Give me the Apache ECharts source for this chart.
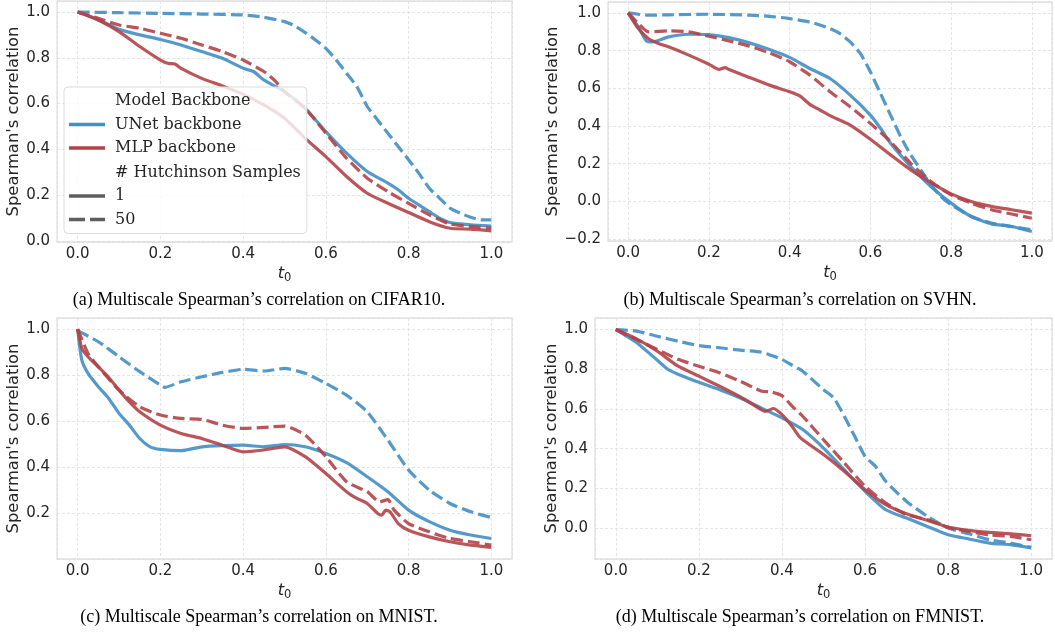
<!DOCTYPE html>
<html><head><meta charset="utf-8">
<script src="https://cdn.jsdelivr.net/npm/echarts@6/dist/echarts.min.js"></script>
<style>html,body{margin:0;padding:0;background:#fff}#c{width:1055px;height:636px}</style>
</head><body><div id="c"></div>
<script>
// ---- data: [t0, Spearman's correlation] ----
const cifarUnet1 = [[0,1.0],[0.025,0.985],[0.05,0.965],[0.075,0.945],[0.1,0.924],[0.15,0.9],[0.2,0.88],[0.25,0.856],[0.3,0.827],[0.35,0.798],[0.4,0.754],[0.425,0.74],[0.45,0.703],[0.5,0.652],[0.55,0.579],[0.6,0.477],[0.65,0.383],[0.7,0.303],[0.75,0.252],[0.775,0.223],[0.8,0.186],[0.85,0.128],[0.875,0.099],[0.9,0.08],[0.95,0.07],[1.0,0.065]];
const cifarUnet50 = [[0,1.0],[0.1,0.997],[0.2,0.994],[0.3,0.991],[0.4,0.987],[0.45,0.977],[0.5,0.958],[0.525,0.939],[0.55,0.91],[0.575,0.878],[0.6,0.841],[0.625,0.79],[0.65,0.732],[0.675,0.674],[0.7,0.587],[0.725,0.528],[0.75,0.47],[0.775,0.412],[0.8,0.354],[0.825,0.295],[0.85,0.23],[0.875,0.186],[0.9,0.143],[0.925,0.121],[0.95,0.103],[0.975,0.092],[1.0,0.092]];
const cifarMlp1 = [[0,1.0],[0.05,0.965],[0.1,0.914],[0.15,0.849],[0.2,0.79],[0.22,0.775],[0.235,0.773],[0.25,0.754],[0.3,0.71],[0.35,0.677],[0.4,0.64],[0.45,0.594],[0.5,0.536],[0.55,0.448],[0.6,0.368],[0.65,0.281],[0.7,0.208],[0.75,0.164],[0.8,0.124],[0.85,0.084],[0.9,0.055],[0.95,0.051],[1.0,0.044]];
const cifarMlp50 = [[0,1.0],[0.05,0.972],[0.1,0.943],[0.15,0.929],[0.2,0.907],[0.25,0.885],[0.3,0.856],[0.35,0.827],[0.4,0.79],[0.45,0.74],[0.475,0.703],[0.5,0.652],[0.55,0.579],[0.6,0.47],[0.65,0.361],[0.7,0.274],[0.75,0.215],[0.8,0.164],[0.85,0.114],[0.9,0.074],[0.95,0.063],[1.0,0.055]];

const svhnUnet1 = [[0,1.0],[0.025,0.926],[0.045,0.852],[0.06,0.846],[0.1,0.873],[0.15,0.887],[0.2,0.885],[0.25,0.869],[0.3,0.841],[0.35,0.806],[0.4,0.764],[0.45,0.705],[0.5,0.652],[0.55,0.564],[0.6,0.458],[0.625,0.388],[0.65,0.308],[0.7,0.185],[0.75,0.079],[0.8,-0.009],[0.85,-0.08],[0.9,-0.119],[0.95,-0.133],[1.0,-0.16]];
const svhnUnet50 = [[0,1.0],[0.05,0.988],[0.1,0.99],[0.2,0.993],[0.3,0.988],[0.35,0.982],[0.4,0.97],[0.45,0.952],[0.5,0.917],[0.525,0.89],[0.55,0.846],[0.575,0.785],[0.6,0.688],[0.625,0.573],[0.65,0.458],[0.675,0.344],[0.7,0.247],[0.725,0.167],[0.75,0.088],[0.775,0.026],[0.8,-0.018],[0.85,-0.08],[0.9,-0.115],[0.95,-0.133],[1.0,-0.15]];
const svhnMlp1 = [[0,1.0],[0.025,0.917],[0.05,0.864],[0.075,0.838],[0.1,0.82],[0.15,0.776],[0.2,0.728],[0.225,0.7],[0.24,0.71],[0.25,0.7],[0.3,0.658],[0.35,0.617],[0.4,0.582],[0.425,0.56],[0.45,0.515],[0.475,0.485],[0.5,0.455],[0.55,0.405],[0.6,0.33],[0.65,0.247],[0.7,0.167],[0.75,0.1],[0.8,0.04],[0.85,0.0],[0.9,-0.026],[0.95,-0.044],[1.0,-0.062]];
const svhnMlp50 = [[0,1.0],[0.025,0.944],[0.05,0.9],[0.1,0.905],[0.15,0.9],[0.2,0.876],[0.25,0.852],[0.3,0.824],[0.35,0.788],[0.4,0.741],[0.45,0.67],[0.5,0.582],[0.55,0.502],[0.6,0.414],[0.65,0.317],[0.7,0.202],[0.75,0.105],[0.8,0.035],[0.85,-0.009],[0.9,-0.044],[0.95,-0.067],[1.0,-0.089]];

const mnistUnet1 = [[0,1.0],[0.01,0.865],[0.025,0.808],[0.05,0.75],[0.075,0.699],[0.1,0.634],[0.125,0.583],[0.15,0.525],[0.175,0.489],[0.2,0.478],[0.25,0.472],[0.3,0.489],[0.35,0.494],[0.4,0.496],[0.45,0.489],[0.5,0.499],[0.55,0.489],[0.6,0.46],[0.65,0.42],[0.7,0.359],[0.75,0.294],[0.8,0.214],[0.85,0.164],[0.9,0.127],[0.95,0.106],[1.0,0.091]];
const mnistUnet50 = [[0,0.993],[0.05,0.945],[0.1,0.88],[0.15,0.815],[0.2,0.757],[0.21,0.747],[0.25,0.771],[0.3,0.793],[0.35,0.812],[0.4,0.825],[0.45,0.818],[0.5,0.829],[0.55,0.808],[0.6,0.764],[0.65,0.713],[0.7,0.641],[0.75,0.518],[0.8,0.388],[0.85,0.301],[0.9,0.243],[0.95,0.207],[1.0,0.182]];
const mnistMlp1 = [[0,1.0],[0.01,0.916],[0.025,0.88],[0.05,0.836],[0.075,0.79],[0.1,0.735],[0.125,0.684],[0.15,0.641],[0.2,0.583],[0.25,0.547],[0.3,0.525],[0.35,0.496],[0.4,0.467],[0.45,0.475],[0.5,0.489],[0.55,0.446],[0.6,0.373],[0.65,0.294],[0.675,0.265],[0.7,0.243],[0.725,0.2],[0.735,0.192],[0.745,0.214],[0.755,0.207],[0.775,0.156],[0.8,0.127],[0.85,0.098],[0.9,0.077],[0.95,0.062],[1.0,0.052]];
const mnistMlp50 = [[0,1.0],[0.025,0.894],[0.05,0.836],[0.1,0.735],[0.15,0.663],[0.2,0.627],[0.25,0.612],[0.3,0.608],[0.35,0.583],[0.4,0.569],[0.45,0.573],[0.5,0.579],[0.55,0.54],[0.6,0.446],[0.65,0.337],[0.7,0.294],[0.73,0.25],[0.75,0.26],[0.765,0.214],[0.8,0.156],[0.85,0.12],[0.9,0.091],[0.95,0.077],[1.0,0.062]];

const fmnistUnet1 = [[0,1.0],[0.05,0.935],[0.1,0.845],[0.125,0.8],[0.15,0.775],[0.2,0.734],[0.25,0.697],[0.3,0.655],[0.35,0.605],[0.4,0.555],[0.45,0.496],[0.5,0.403],[0.55,0.294],[0.6,0.185],[0.65,0.092],[0.7,0.05],[0.75,0.008],[0.8,-0.034],[0.85,-0.055],[0.9,-0.076],[0.95,-0.084],[1.0,-0.1]];
const fmnistUnet50 = [[0,1.0],[0.05,0.992],[0.1,0.966],[0.15,0.941],[0.2,0.919],[0.25,0.908],[0.3,0.896],[0.35,0.886],[0.375,0.869],[0.4,0.849],[0.425,0.82],[0.45,0.79],[0.5,0.697],[0.525,0.655],[0.55,0.563],[0.575,0.462],[0.6,0.361],[0.625,0.311],[0.65,0.235],[0.7,0.134],[0.75,0.059],[0.8,0.0],[0.85,-0.029],[0.9,-0.059],[0.95,-0.076],[1.0,-0.097]];
const fmnistMlp1 = [[0,1.0],[0.05,0.953],[0.1,0.891],[0.15,0.815],[0.2,0.765],[0.25,0.714],[0.3,0.66],[0.35,0.597],[0.36,0.588],[0.38,0.602],[0.4,0.571],[0.425,0.51],[0.44,0.465],[0.45,0.445],[0.5,0.37],[0.55,0.286],[0.6,0.193],[0.65,0.118],[0.7,0.072],[0.75,0.039],[0.8,0.005],[0.85,-0.012],[0.9,-0.022],[0.95,-0.029],[1.0,-0.039]];
const fmnistMlp50 = [[0,1.0],[0.05,0.95],[0.1,0.899],[0.15,0.85],[0.2,0.815],[0.25,0.782],[0.3,0.739],[0.35,0.69],[0.375,0.685],[0.4,0.667],[0.425,0.613],[0.45,0.563],[0.5,0.445],[0.55,0.328],[0.6,0.21],[0.65,0.126],[0.7,0.067],[0.75,0.042],[0.8,0.003],[0.85,-0.017],[0.9,-0.034],[0.95,-0.042],[1.0,-0.059]];

const captions = [
  '(a) Multiscale Spearman\u2019s correlation on CIFAR10.',
  '(b) Multiscale Spearman\u2019s correlation on SVHN.',
  '(c) Multiscale Spearman\u2019s correlation on MNIST.',
  '(d) Multiscale Spearman\u2019s correlation on FMNIST.'
];
const yAxisTitle = "Spearman's correlation";
const legendEntries = ['Model Backbone', 'UNet backbone', 'MLP backbone', '# Hutchinson Samples', '1', '50'];
const panelData = [
  [cifarUnet1, cifarUnet50, cifarMlp1, cifarMlp50],
  [svhnUnet1, svhnUnet50, svhnMlp1, svhnMlp50],
  [mnistUnet1, mnistUnet50, mnistMlp1, mnistMlp50],
  [fmnistUnet1, fmnistUnet50, fmnistMlp1, fmnistMlp50]
];
const yRanges = [[-0.005, 1.048], [-0.21, 1.058], [0.002, 1.048], [-0.156, 1.058]];

// ---- layout / style ----
const BLUE = '#438ec4', RED = '#b24248', GRAY = '#5e5e5e';
const layout = [
  {left: 57, top: 1, width: 455, height: 241, nameGap: 32, cx: 259, cy: 300},
  {left: 608, top: 2, width: 445, height: 239, nameGap: 45, cx: 800, cy: 300},
  {left: 57, top: 318, width: 455, height: 241, nameGap: 32, cx: 259, cy: 617},
  {left: 595, top: 318, width: 458, height: 241, nameGap: 32, cx: 800, cy: 617}
];
const fmt = v => {
  if (Math.abs(v * 5 - Math.round(v * 5)) > 1e-6) return '';
  return (Math.round(v * 5) / 5).toFixed(1).replace('-', '\u2212');
};
const tickFont = {fontFamily: 'DejaVu Sans', fontSize: 15, color: '#262626'};
const nameFont = {fontFamily: 'DejaVu Sans', fontSize: 16.4, color: '#262626'};
const splitLine = {show: true, lineStyle: {color: '#dedede', width: 0.8, type: [3, 2]}};

const grids = layout.map(l => ({left: l.left, top: l.top, width: l.width, height: l.height,
  show: true, borderColor: '#e0e0e0', borderWidth: 1.3, backgroundColor: 'transparent', containLabel: false}));
const xAxes = layout.map((l, i) => ({
  type: 'value', gridIndex: i, min: -0.05, max: 1.05, minInterval: 0.2, maxInterval: 0.2,
  axisLine: {show: false}, axisTick: {show: false}, splitLine,
  axisLabel: Object.assign({formatter: fmt, margin: 5}, tickFont),
  name: '{t|t}{s|0}', nameLocation: 'middle', nameGap: 19,
  nameTextStyle: {color: '#262626', rich: {
    t: {fontFamily: 'DejaVu Sans', fontStyle: 'italic', fontSize: 16.4, lineHeight: 19, color: '#262626'},
    s: {fontFamily: 'DejaVu Sans', fontSize: 11.5, lineHeight: 12, padding: [9, 0, 0, 0], color: '#262626'}
  }}
}));
const yAxes = layout.map((l, i) => ({
  type: 'value', gridIndex: i, min: yRanges[i][0], max: yRanges[i][1], minInterval: 0.2, maxInterval: 0.2,
  axisLine: {show: false}, axisTick: {show: false}, splitLine,
  axisLabel: Object.assign({formatter: fmt, margin: 7}, tickFont),
  name: yAxisTitle, nameLocation: 'middle', nameGap: l.nameGap, nameRotate: 90,
  nameTextStyle: nameFont
}));

const styles = [
  {color: BLUE, type: 'solid'}, {color: BLUE, type: [12, 5]},
  {color: RED, type: 'solid'}, {color: RED, type: [12, 5]}
];
const series = [];
panelData.forEach((arr, i) => {
  arr.forEach((d, k) => {
    series.push({
      type: 'line', name: 'p' + i + 's' + k, xAxisIndex: i, yAxisIndex: i, data: d,
      showSymbol: false, symbol: 'none', smooth: 0.2, silent: true, animation: false,
      lineStyle: {color: styles[k].color, width: 3.2, type: styles[k].type, opacity: 0.9, cap: 'butt', join: 'round'},
      z: 2 + k
    });
  });
});
const legendColors = ['transparent', BLUE, RED, 'transparent', GRAY, GRAY];
const SOLID = 'path://M0,0H36V3.4H0Z';
const DASHED = 'path://M0,0H16V3.4H0Z M21,0H36V3.4H21Z';
const legendIcons = ['none', SOLID, SOLID, 'none', SOLID, DASHED];
legendEntries.forEach((n, k) => series.push({type: 'line', name: n, data: [], xAxisIndex: 0, yAxisIndex: 0,
  color: legendColors[k], showSymbol: false, silent: true}));

const option = {
  animation: false,
  backgroundColor: '#fff',
  grid: grids, xAxis: xAxes, yAxis: yAxes, series,
  legend: {
    orient: 'vertical', left: 64, top: 87, itemWidth: 36, itemHeight: 18, itemGap: 7.5,
    padding: [5, 6, 6, 5], backgroundColor: 'rgba(255,255,255,0.8)', borderColor: '#dcdcdc', borderWidth: 1,
    borderRadius: 4, selectedMode: false, z: 10,
    textStyle: {fontFamily: 'DejaVu Serif', fontSize: 16, color: '#262626', padding: [0, 0, 0, 5]},
    data: legendEntries.map((n, k) => ({name: n, icon: legendIcons[k], itemStyle: {color: legendColors[k]}}))
  },
  graphic: layout.map((l, i) => ({
    type: 'text', x: l.cx, y: l.cy,
    style: {text: captions[i], font: '18px "Liberation Serif"', fill: '#000', align: 'center', verticalAlign: 'middle',
      textAlign: 'center', textVerticalAlign: 'middle'}
  }))
};
const chart = echarts.init(document.getElementById('c'), null, {renderer: 'canvas'});
chart.setOption(option);
</script></body></html>
